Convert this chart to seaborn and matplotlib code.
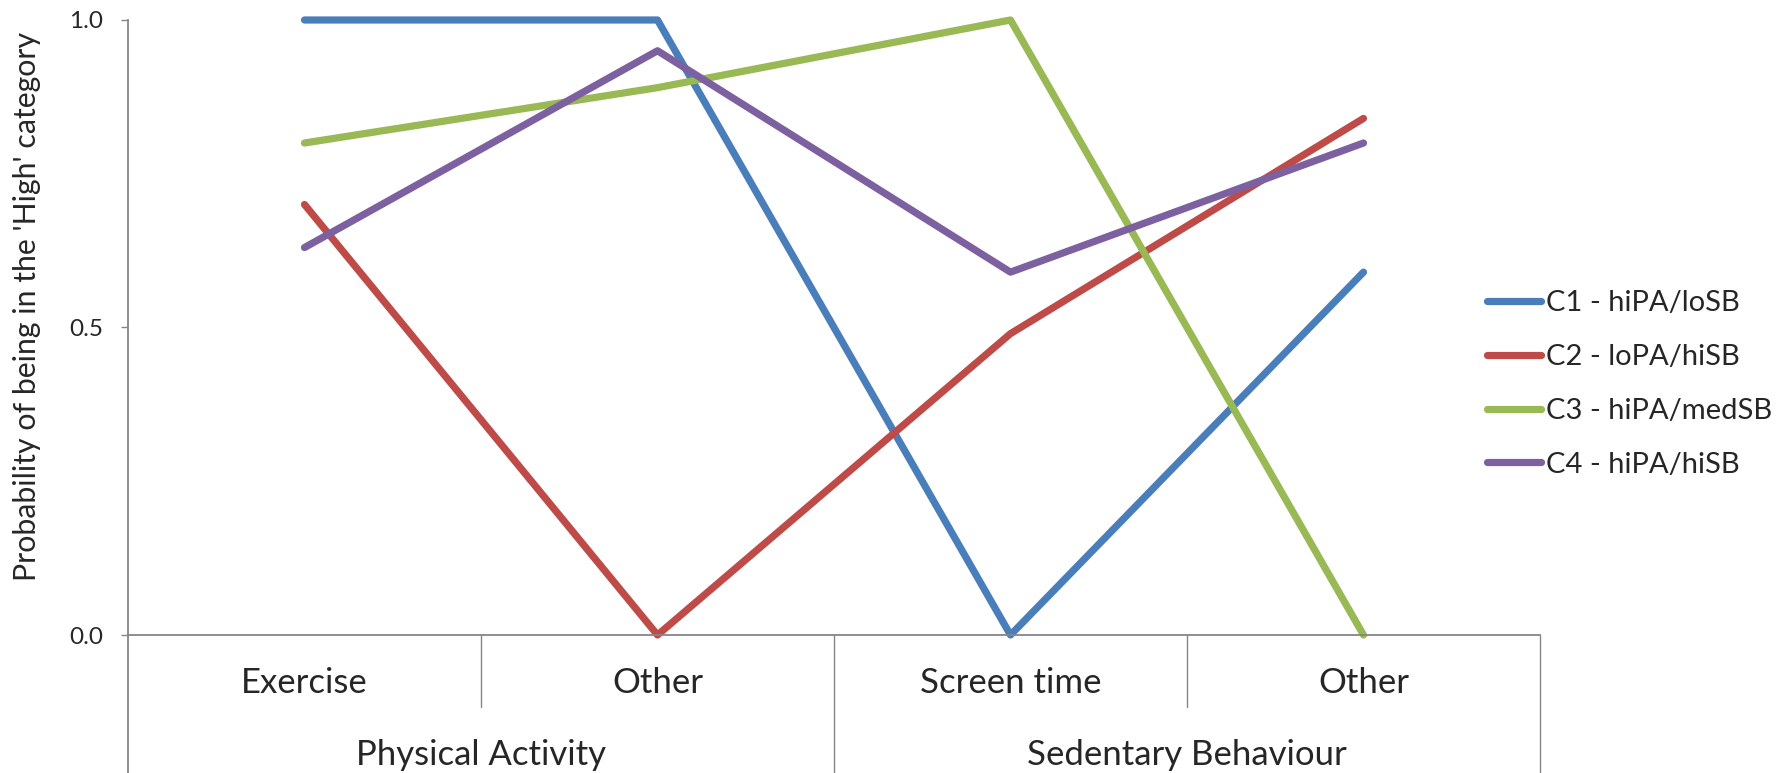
import matplotlib
matplotlib.use("Agg")
import matplotlib.pyplot as plt
import seaborn as sns
import pandas as pd

# Categories (two groups of two behaviours each)
sub_labels = ["Exercise", "Other", "Screen time", "Other"]
group_labels = ["Physical Activity", "Sedentary Behaviour"]
group_sizes = [2, 2]

# Cluster probabilities of being in the 'High' category
clusters = ["C1 - hiPA/loSB", "C2 - loPA/hiSB", "C3 - hiPA/medSB", "C4 - hiPA/hiSB"]
c1 = [1.00, 1.00, 0.00, 0.59]
c2 = [0.70, 0.00, 0.49, 0.84]
c3 = [0.80, 0.89, 1.00, 0.00]
c4 = [0.63, 0.95, 0.59, 0.80]
colors = ["#4A7EBB", "#BE4B48", "#98B954", "#7D60A0"]

y_ticks = [0.0, 0.5, 1.0]

rows = []
for name, vals in zip(clusters, [c1, c2, c3, c4]):
    for pos, v in enumerate(vals):
        rows.append({"pos": pos, "prob": v, "cluster": name})
df = pd.DataFrame(rows)

sns.set_style("white")
plt.rcParams["font.family"] = ["Lato", "DejaVu Sans"]

W, H = 1781, 773
fig = plt.figure(figsize=(W / 100, H / 100), dpi=100)
left, right, top, bottom = 128, 1540, 20, 635
ax = fig.add_axes([left / W, 1 - bottom / H, (right - left) / W, (bottom - top) / H])

sns.lineplot(data=df, x="pos", y="prob", hue="cluster", palette=colors,
             hue_order=clusters, linewidth=5.2, sort=False, estimator=None,
             legend=False, ax=ax)
for ln in ax.lines:
    ln.set_solid_capstyle("round")
    ln.set_solid_joinstyle("round")
    ln.set_clip_on(False)

gray = "#868686"
ax.set_xlim(-0.5, len(sub_labels) - 0.5)
ax.set_ylim(0, 1)
ax.set_yticks(y_ticks)
ax.set_yticklabels([f"{t:.1f}" for t in y_ticks])
ax.set_xticks([])
ax.set_xlabel("")
for s in ["top", "right"]:
    ax.spines[s].set_visible(False)
for s in ["left", "bottom"]:
    ax.spines[s].set_color(gray)
    ax.spines[s].set_linewidth(1.3)
ax.tick_params(axis="y", length=5, width=1.0, color=gray, pad=13, labelsize=17.5,
               left=True, direction="out")

ax.set_ylabel("Probability of being in the 'High' category", fontsize=21.8, va="center")
ax.yaxis.set_label_coords((27 - left) / (right - left), (bottom - 306) / (bottom - top))

# Two-level category axis under the plot
tr = ax.get_xaxis_transform()
px = bottom - top
inner_y = -(707 - bottom) / px
outer_y = -(H - bottom) / px
sub_y = -(683 - bottom) / px
grp_y = -(755 - bottom) / px

# y-axis continues down through the category rows
ax.plot([-0.5, -0.5], [0, outer_y], transform=tr, color=gray, lw=1.3, clip_on=False)
start = 0
for gname, n in zip(group_labels, group_sizes):
    end = start + n
    ax.plot([end - 0.5, end - 0.5], [0, outer_y], transform=tr, color=gray, lw=1.0,
            clip_on=False)
    for k in range(start + 1, end):
        ax.plot([k - 0.5, k - 0.5], [0, inner_y], transform=tr, color=gray, lw=1.0,
                clip_on=False)
    ax.text((start + end - 1) / 2, grp_y, gname, transform=tr, ha="center",
            va="center", fontsize=25)
    start = end
for i, lab in enumerate(sub_labels):
    ax.text(i, sub_y, lab, transform=tr, ha="center", va="center", fontsize=25)

fs_leg = 21
ax.legend(ax.lines[:4], clusters, loc="center left",
          bbox_to_anchor=((1487 - left) / (right - left), (bottom - 384) / px),
          frameon=False, fontsize=fs_leg, handlelength=1.85, handletextpad=0.18,
          labelspacing=0.95, borderpad=0, borderaxespad=0)

fig.savefig("out.png", dpi=100)
